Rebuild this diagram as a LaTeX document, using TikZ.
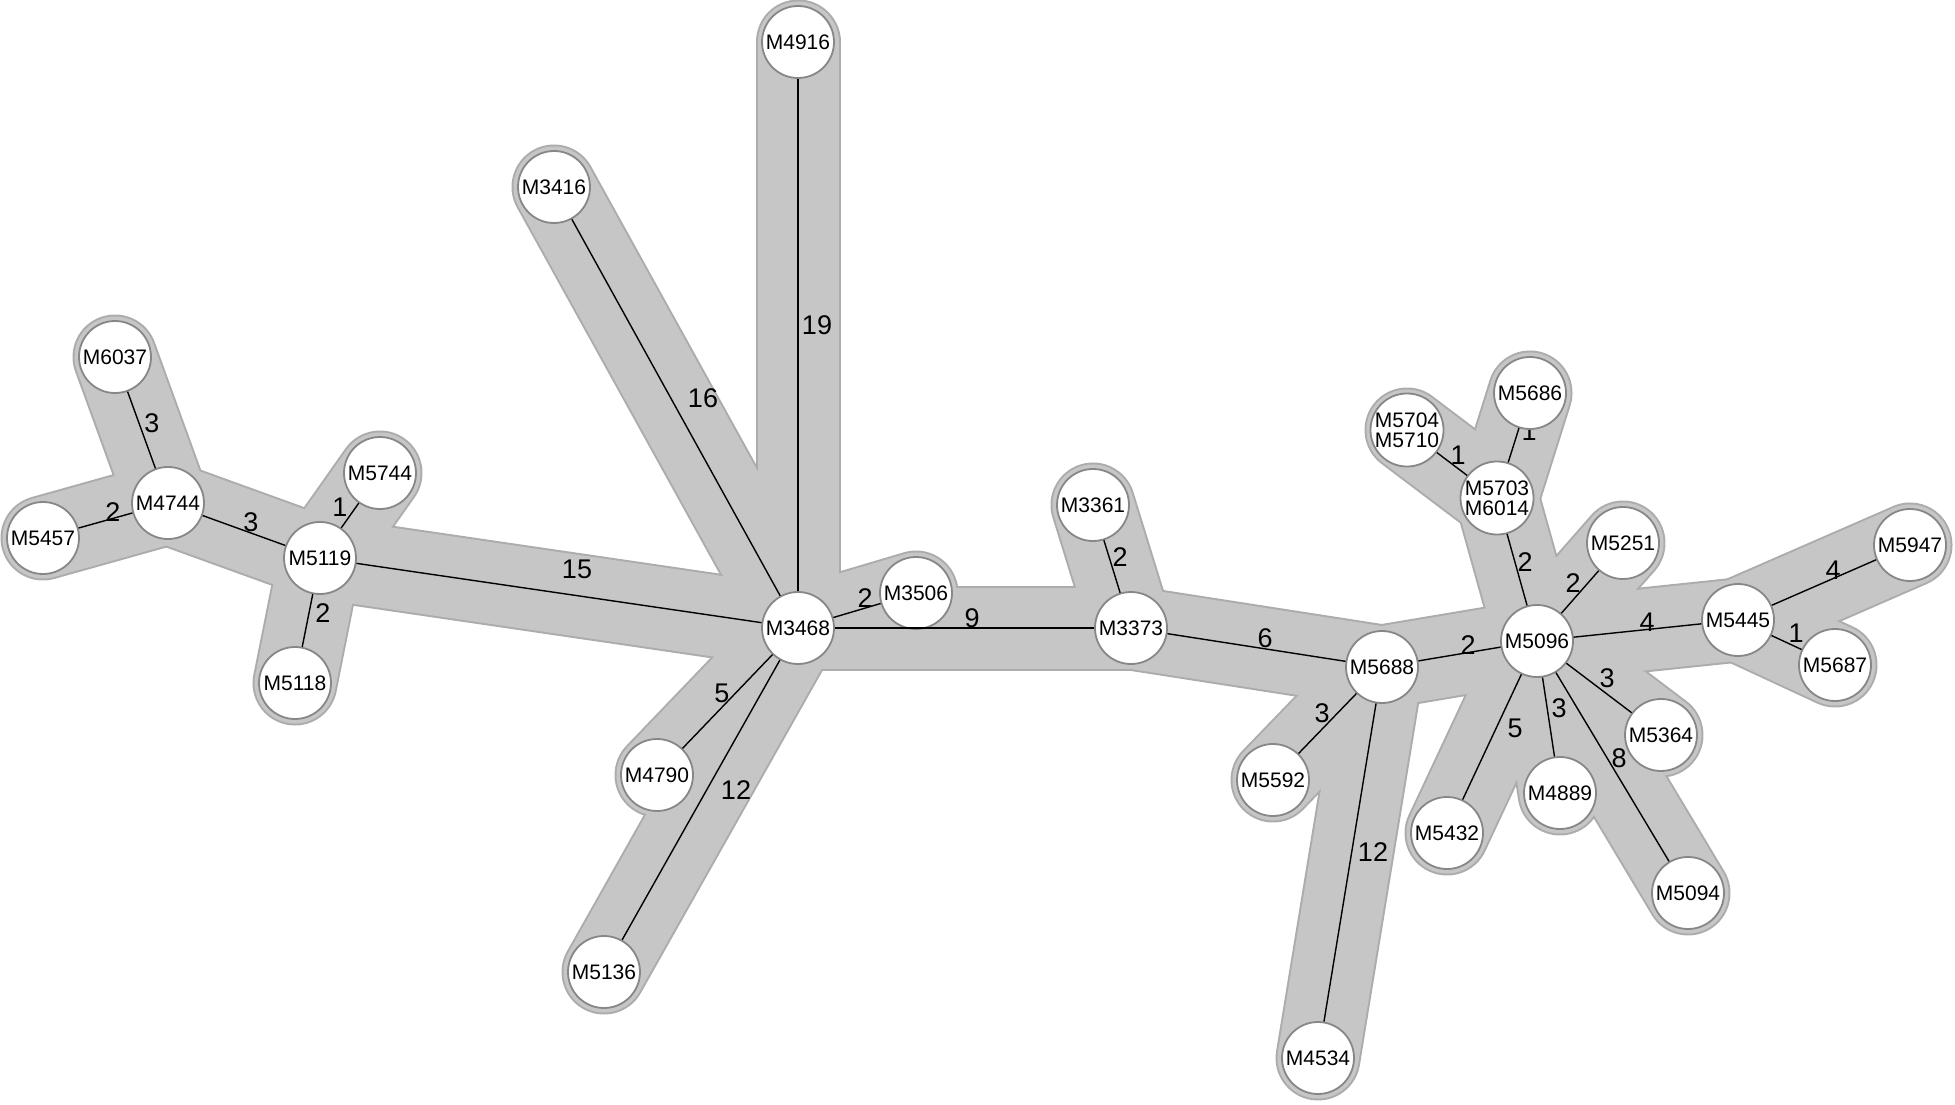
\documentclass[tikz,border=0pt]{standalone}
\usepackage{fontspec}
\setmainfont{Liberation Sans}
\pgfdeclarelayer{bg}
\pgfdeclarelayer{mid}
\pgfsetlayers{bg,mid,main}
\definecolor{bandfill}{RGB}{198,198,198}
\definecolor{bandline}{RGB}{172,172,172}
\definecolor{nodeline}{RGB}{135,135,135}
\tikzset{
  mnode/.style={circle, draw=nodeline, line width=1.8pt, fill=white, minimum size=72pt, inner sep=0pt, font=\fontsize{21}{20}\selectfont, align=center},
  elab/.style={font=\fontsize{27}{27}\selectfont, inner sep=0pt},
  edge/.style={line width=1.4pt, black},
  bandout/.style={line width=85pt, bandline, line cap=round},
  bandin/.style={line width=81pt, bandfill, line cap=round}
}
\begin{document}
\begin{tikzpicture}[x=1pt,y=-1pt]
\useasboundingbox (0,0) rectangle (1955,1105);
% nodes
\node[mnode] (n4916) at (798,42) {M4916};
\node[mnode] (n3416) at (554,187) {M3416};
\node[mnode] (n6037) at (115,357) {M6037};
\node[mnode] (n4744) at (168,503) {M4744};
\node[mnode] (n5457) at (43,538) {M5457};
\node[mnode] (n5744) at (380,473) {M5744};
\node[mnode] (n5119) at (320,558) {M5119};
\node[mnode] (n5118) at (295,683) {M5118};
\node[mnode] (n3468) at (798,628) {M3468};
\node[mnode] (n3506) at (916,593) {M3506};
\node[mnode] (n4790) at (657,775) {M4790};
\node[mnode] (n5136) at (604,972) {M5136};
\node[mnode] (n3361) at (1093,505) {M3361};
\node[mnode] (n3373) at (1131,628) {M3373};
\node[mnode] (n5688) at (1382,667) {M5688};
\node[mnode] (n5592) at (1273,780) {M5592};
\node[mnode] (n4534) at (1318,1058) {M4534};
\node[mnode] (n5096) at (1537,641) {M5096};
\node[mnode] (n5704) at (1407,430) {M5704\\M5710};
\node[mnode] (n5686) at (1530,393) {M5686};
\node[mnode] (n5703) at (1497,498) {M5703\\M6014};
\node[mnode] (n5251) at (1623,543) {M5251};
\node[mnode] (n5445) at (1738,620) {M5445};
\node[mnode] (n5947) at (1910,545) {M5947};
\node[mnode] (n5687) at (1835,665) {M5687};
\node[mnode] (n5364) at (1661,735) {M5364};
\node[mnode] (n4889) at (1560,793) {M4889};
\node[mnode] (n5432) at (1447,833) {M5432};
\node[mnode] (n5094) at (1688,893) {M5094};
% bands
\def\edgelist{n4916/n3468, n3416/n3468, n5119/n3468, n6037/n4744, n5457/n4744, n4744/n5119, n5744/n5119, n5119/n5118, n3468/n3506, n3468/n3373, n3468/n4790, n3468/n5136, n3361/n3373, n3373/n5688, n5688/n5592, n5688/n4534, n5688/n5096, n5704/n5703, n5686/n5703, n5703/n5096, n5096/n5251, n5096/n5445, n5445/n5947, n5445/n5687, n5096/n5364, n5096/n4889, n5096/n5432, n5096/n5094}
\begin{pgfonlayer}{bg}
\foreach \a/\b in \edgelist { \draw[bandout] (\a.center) -- (\b.center); }
\foreach \a/\b in \edgelist { \draw[bandin] (\a.center) -- (\b.center); }
\end{pgfonlayer}
% edges
\foreach \a/\b in \edgelist { \draw[edge] (\a) -- (\b); }
% labels
\begin{pgfonlayer}{mid}
\node[elab] (l01) at (817,325) {19};
\node[elab] (l02) at (703,398) {16};
\node[elab] (l03) at (577,569) {15};
\node[elab] (l04) at (152,423) {3};
\node[elab] (l05) at (113,512) {2};
\node[elab] (l06) at (251,522) {3};
\node[elab] (l07) at (340,507) {1};
\node[elab] (l08) at (323,613) {2};
\node[elab] (l09) at (865,598) {2};
\node[elab] (l10) at (972,618) {9};
\node[elab] (l11) at (722,693) {5};
\node[elab] (l12) at (736,790) {12};
\node[elab] (l13) at (1120,557) {2};
\node[elab] (l14) at (1265,638) {6};
\node[elab] (l15) at (1322,713) {3};
\node[elab] (l16) at (1373,852) {12};
\node[elab] (l17) at (1468,645) {2};
\node[elab] (l18) at (1458,455) {1};
\node[elab] (l19) at (1529,431) {1};
\node[elab] (l20) at (1525,562) {2};
\node[elab] (l21) at (1573,583) {2};
\node[elab] (l22) at (1647,622) {4};
\node[elab] (l23) at (1833,570) {4};
\node[elab] (l24) at (1796,633) {1};
\node[elab] (l25) at (1607,678) {3};
\node[elab] (l26) at (1559,708) {3};
\node[elab] (l27) at (1515,728) {5};
\node[elab] (l28) at (1619,758) {8};
\end{pgfonlayer}
\end{tikzpicture}
\end{document}
